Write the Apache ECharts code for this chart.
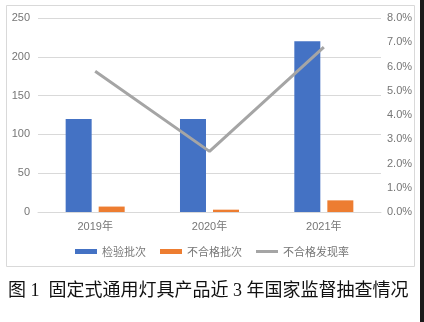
<!DOCTYPE html>
<html><head><meta charset="utf-8">
<script src="https://cdn.jsdelivr.net/npm/echarts@6/dist/echarts.min.js"></script>
<style>html,body{margin:0;padding:0;background:#fff}#c{width:424px;height:322px}</style>
</head><body><div id="c"></div>
<script>
const categories = ['2019年', '2020年', '2021年'];
const inspected = [120, 120, 220];
const failed = [7, 3, 15];
const failRate = [0.058, 0.025, 0.068];
const leftTicks = [0, 50, 100, 150, 200, 250];
const rightTicks = [0, 0.01, 0.02, 0.03, 0.04, 0.05, 0.06, 0.07, 0.08];
const seriesNames = ['检验批次', '不合格批次', '不合格发现率'];
const captionText = '图 1  固定式通用灯具产品近 3 年国家监督抽查情况';

const chart = echarts.init(document.getElementById('c'), null, {renderer: 'canvas'});
const lab = {color: '#767676', fontSize: 11, fontFamily: 'Liberation Sans, Noto Sans CJK SC, sans-serif'};
chart.setOption({
  animation: false,
  backgroundColor: '#fff',
  graphic: [
    {type: 'rect', shape: {x: 6.5, y: 5.5, width: 408, height: 261}, style: {fill: 'none', stroke: '#d9d9d9', lineWidth: 1}, z: -1},
    {type: 'rect', shape: {x: 420, y: 0, width: 4, height: 322}, style: {fill: '#1a1a1a'}},
    {type: 'text', left: 8, top: 282, style: {text: captionText, fill: '#111', fontSize: 18, fontFamily: 'Liberation Serif, Noto Sans CJK SC, serif'}}
  ],
  grid: {left: 38, right: 43, top: 18, bottom: 110, containLabel: false},
  legend: {
    top: 241, left: 'center', itemGap: 14, itemWidth: 22, itemHeight: 5,
    textStyle: {color: '#767676', fontSize: 11, fontFamily: 'Noto Sans CJK SC, sans-serif'},
    data: [
      {name: seriesNames[0], icon: 'rect'},
      {name: seriesNames[1], icon: 'rect'},
      {name: seriesNames[2], icon: 'path://M0,0L0,0M0,1H22V4H0ZM22,5L22,5'}
    ]
  },
  xAxis: {
    type: 'category', data: categories,
    axisLine: {lineStyle: {color: '#d9d9d9'}}, axisTick: {show: false},
    axisLabel: Object.assign({margin: 9}, lab)
  },
  yAxis: [
    {type: 'value', min: leftTicks[0], max: leftTicks[leftTicks.length - 1], interval: 50,
     axisLine: {show: false}, axisTick: {show: false},
     splitLine: {lineStyle: {color: '#d9d9d9'}},
     axisLabel: Object.assign({margin: 8}, lab)},
    {type: 'value', min: rightTicks[0], max: rightTicks[rightTicks.length - 1], interval: 0.01,
     axisLine: {show: false}, axisTick: {show: false}, splitLine: {show: false},
     axisLabel: Object.assign({margin: 6, formatter: v => (v * 100).toFixed(1) + '%'}, lab)}
  ],
  series: [
    {name: seriesNames[0], type: 'bar', data: inspected, barWidth: 26, barGap: '27%', itemStyle: {color: '#4472C4'}},
    {name: seriesNames[1], type: 'bar', data: failed, barWidth: 26, itemStyle: {color: '#ED7D31'}},
    {name: seriesNames[2], type: 'line', yAxisIndex: 1, data: failRate, symbol: 'none',
     lineStyle: {color: '#A5A5A5', width: 3}, itemStyle: {color: '#A5A5A5'}}
  ]
});
</script></body></html>
